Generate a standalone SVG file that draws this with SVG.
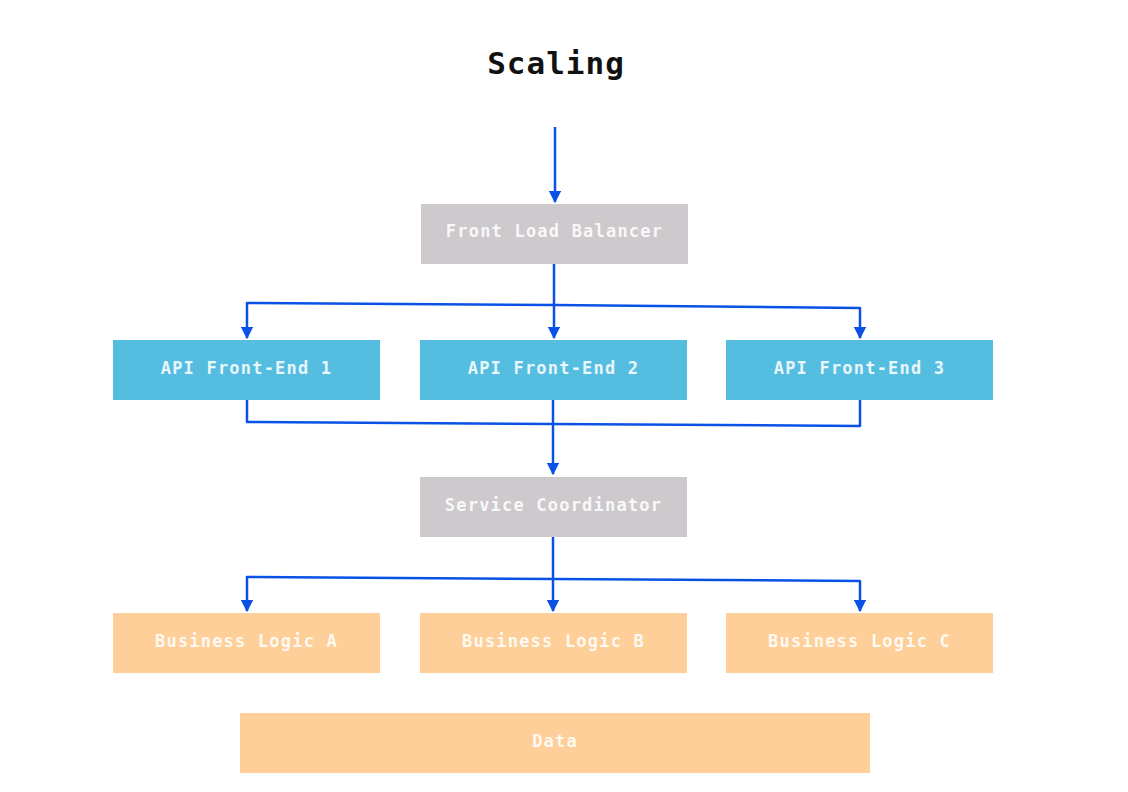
<svg xmlns="http://www.w3.org/2000/svg" width="1128" height="792" viewBox="0 0 1128 792">
  <style>
    .box { stroke: none; }
    .gray { fill: #cdc9cd; }
    .blue { fill: #55bee0; }
    .orange { fill: #fecf98; }
    .label { font-family: "DejaVu Sans Mono", "Liberation Mono", monospace; font-size: 17px; font-weight: bold; fill: #ffffff; fill-opacity: 0.88; text-anchor: middle; letter-spacing: 1.2px; }
    .title { font-family: "DejaVu Sans Mono", "Liberation Mono", monospace; font-size: 31px; font-weight: bold; fill: #111111; text-anchor: middle; letter-spacing: 1px; }
    .wire { fill: none; stroke: #0a52e6; stroke-width: 2.5; stroke-linejoin: round; }
  </style>
  <defs>
    <marker id="arrow" viewBox="0 0 10 10" refX="9" refY="5" markerWidth="5" markerHeight="5" orient="auto" markerUnits="strokeWidth">
      <path d="M0,0 L10,5 L0,10 z" fill="#0a52e6"/>
    </marker>
  </defs>
  <rect width="1128" height="792" fill="#ffffff"/>

  <text class="title" x="556" y="74">Scaling</text>

  <g id="connectors">
    <!-- entry into the load balancer -->
    <path class="wire" d="M555,127 L555,202" marker-end="url(#arrow)"/>
    <!-- load balancer fan-out to the API front-ends -->
    <path class="wire" d="M554,264 L554,338" marker-end="url(#arrow)"/>
    <path class="wire" d="M554,305 L247,303 L247,338" marker-end="url(#arrow)"/>
    <path class="wire" d="M554,305 L860,308 L860,338" marker-end="url(#arrow)"/>
    <!-- API front-ends merge into the coordinator -->
    <path class="wire" d="M247,400 L247,422 L860,426 L860,400"/>
    <path class="wire" d="M553,400 L553,474" marker-end="url(#arrow)"/>
    <!-- coordinator fan-out to business logic -->
    <path class="wire" d="M553,537 L553,611" marker-end="url(#arrow)"/>
    <path class="wire" d="M553,579 L247,577 L247,611" marker-end="url(#arrow)"/>
    <path class="wire" d="M553,579 L860,581 L860,611" marker-end="url(#arrow)"/>
  </g>

  <g id="front-load-balancer">
    <rect class="box gray" x="421" y="204" width="267" height="60"/>
    <text class="label" x="554.5" y="237">Front Load Balancer</text>
  </g>
  <g id="api-front-end-1">
    <rect class="box blue" x="113" y="340" width="267" height="60"/>
    <text class="label" x="246.5" y="374">API Front-End 1</text>
  </g>
  <g id="api-front-end-2">
    <rect class="box blue" x="420" y="340" width="267" height="60"/>
    <text class="label" x="553.5" y="374">API Front-End 2</text>
  </g>
  <g id="api-front-end-3">
    <rect class="box blue" x="726" y="340" width="267" height="60"/>
    <text class="label" x="859.5" y="374">API Front-End 3</text>
  </g>
  <g id="service-coordinator">
    <rect class="box gray" x="420" y="477" width="267" height="60"/>
    <text class="label" x="553.5" y="511">Service Coordinator</text>
  </g>
  <g id="business-logic-a">
    <rect class="box orange" x="113" y="613" width="267" height="60"/>
    <text class="label" x="246.5" y="647">Business Logic A</text>
  </g>
  <g id="business-logic-b">
    <rect class="box orange" x="420" y="613" width="267" height="60"/>
    <text class="label" x="553.5" y="647">Business Logic B</text>
  </g>
  <g id="business-logic-c">
    <rect class="box orange" x="726" y="613" width="267" height="60"/>
    <text class="label" x="859.5" y="647">Business Logic C</text>
  </g>
  <g id="data">
    <rect class="box orange" x="240" y="713" width="630" height="60"/>
    <text class="label" x="555" y="747">Data</text>
  </g>
</svg>
